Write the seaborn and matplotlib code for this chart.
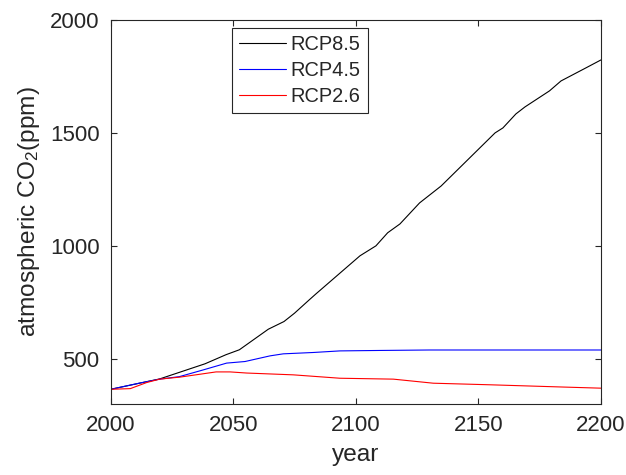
import numpy as np
import pandas as pd
import matplotlib
matplotlib.use("Agg")
import matplotlib.pyplot as plt
import seaborn as sns

# ---- data ----
years_85 = [2000, 2010, 2020, 2038.5, 2047, 2052.5, 2064.3, 2070.7, 2075, 2081, 2083.8,
            2101.7, 2108.2, 2113, 2118, 2126, 2134.8, 2156.8, 2160, 2165.3, 2169, 2179,
            2183.7, 2193.9, 2200]
co2_85 = [365, 388, 411, 478, 518, 540, 631, 665, 702, 761, 788,
          956, 1000, 1058, 1097, 1190, 1265, 1500, 1522, 1584, 1615, 1686,
          1730, 1788, 1823]

years_45 = [2000, 2012, 2020, 2028, 2037.8, 2047.3, 2054.8, 2065, 2070.4, 2082.7, 2093.5,
            2110, 2130, 2200]
co2_45 = [365, 393, 410, 421, 451, 481, 488, 513, 522, 528, 535,
          537, 539, 539]

years_26 = [2000, 2008, 2014.7, 2020, 2028.3, 2043, 2048.7, 2055.5, 2074.5, 2093.5,
            2115.3, 2131.6, 2154.7, 2184.6, 2200]
co2_26 = [365, 368, 395, 410, 419, 442, 442, 437, 429, 414,
          410, 392, 385, 375, 370]

scenarios = ["RCP8.5", "RCP4.5", "RCP2.6"]
colors = ["#000000", "#0000ff", "#ff0000"]
x_ticks = [2000, 2050, 2100, 2150, 2200]
y_ticks = [500, 1000, 1500, 2000]

df = pd.concat([
    pd.DataFrame({"year": years_85, "co2": co2_85, "scenario": "RCP8.5"}),
    pd.DataFrame({"year": years_45, "co2": co2_45, "scenario": "RCP4.5"}),
    pd.DataFrame({"year": years_26, "co2": co2_26, "scenario": "RCP2.6"}),
], ignore_index=True)

sns.set_style("ticks")
plt.rcParams["font.family"] = ["Liberation Sans", "DejaVu Sans"]
plt.rcParams["mathtext.fontset"] = "custom"
plt.rcParams["mathtext.rm"] = "Liberation Sans"
plt.rcParams["mathtext.it"] = "Liberation Sans"

fig = plt.figure(figsize=(6.26, 4.75), dpi=100)
ax = fig.add_axes([0.1768, 0.1495, 0.960 - 0.1768, 0.958 - 0.1495])

sns.lineplot(data=df, x="year", y="co2", hue="scenario", hue_order=scenarios,
             palette=colors, linewidth=0.8, ax=ax, sort=False, estimator=None)

ax.set_xlim(2000, 2200)
ax.set_ylim(300, 2000)
ax.set_xticks(x_ticks)
ax.set_yticks(y_ticks)

axis_col = "#262626"
for s in ax.spines.values():
    s.set_visible(True)
    s.set_color(axis_col)
    s.set_linewidth(0.8)
ax.tick_params(direction="in", length=4, width=0.8, color=axis_col,
               labelcolor=axis_col, labelsize=16, top=True, right=True, pad=8)

ax.set_xlabel("year", fontsize=17.6, color=axis_col, labelpad=6)
ax.set_ylabel("atmospheric CO$_2$(ppm)", fontsize=17.6, color=axis_col, labelpad=6)

handles, labels = ax.get_legend_handles_labels()
leg = ax.legend(handles, labels, loc="upper left", bbox_to_anchor=(0.247, 0.979),
                borderaxespad=0, fontsize=14.4, frameon=True, fancybox=False,
                framealpha=1, edgecolor=axis_col, borderpad=0.35, handlelength=2.35,
                handletextpad=0.25, labelspacing=0.36)
leg.get_frame().set_linewidth(0.8)
for line in leg.get_lines():
    line.set_linewidth(0.8)

fig.savefig("out.png", dpi=100)
